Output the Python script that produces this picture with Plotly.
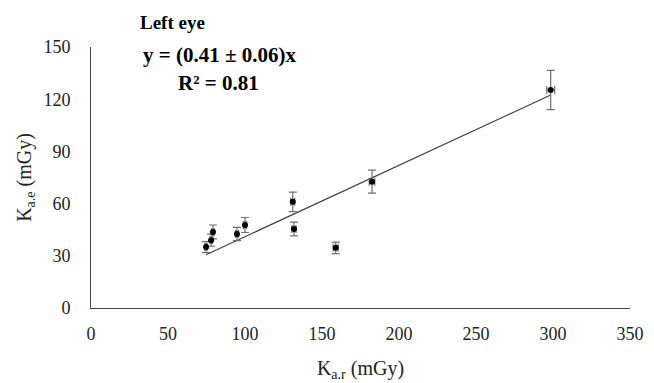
import plotly.graph_objects as go

# Data
k_ar = [74.7, 78.0, 79.2, 94.8, 100.0, 131.0, 131.8, 158.9, 182.5, 298.5]
k_ae = [35.0, 39.0, 43.7, 42.5, 47.7, 61.0, 45.4, 34.6, 72.6, 125.3]
k_ae_err = [3.2, 3.5, 4.0, 3.8, 4.3, 5.6, 4.0, 3.3, 6.6, 11.3]
k_ar_err = [0.8, 0.8, 0.8, 1.0, 1.0, 1.3, 1.3, 1.6, 1.8, 2.6]
slope = 0.41
x_ticks = [0, 50, 100, 150, 200, 250, 300, 350]
y_ticks = [0, 30, 60, 90, 120, 150]

FONT = "Liberation Serif, Times New Roman, serif"

fit_x = [min(k_ar), max(k_ar)]
fit_y = [slope * v for v in fit_x]

fig = go.Figure()
fig.add_trace(go.Scatter(
    x=fit_x, y=fit_y, mode="lines",
    line=dict(color="#404040", width=1.2), hoverinfo="skip", showlegend=False))
fig.add_trace(go.Scatter(
    x=k_ar, y=k_ae, mode="markers",
    marker=dict(color="black", size=6),
    error_y=dict(type="data", array=k_ae_err, color="#6e6e6e", thickness=1.2, width=4),
    error_x=dict(type="data", array=k_ar_err, color="#6e6e6e", thickness=1.2, width=4),
    showlegend=False))

# page body adds an 8px offset, so the figure is sized to 646x375
fig.update_layout(
    width=646, height=375,
    margin=dict(l=83, r=24, t=39, b=75),
    paper_bgcolor="white", plot_bgcolor="white",
    font=dict(family=FONT, size=18, color="#222"),
    xaxis=dict(range=[0, 350], tickvals=x_ticks, showgrid=False, zeroline=False,
               showline=True, linecolor="#444", linewidth=1, ticks="",
               ticklabelstandoff=9, automargin=False,
               title=dict(text="K<sub>a.r</sub> (mGy)", font=dict(size=20), standoff=18)),
    yaxis=dict(range=[0, 150], tickvals=y_ticks, showgrid=False, zeroline=False,
               showline=True, linecolor="#444", linewidth=1, ticks="",
               ticklabelstandoff=16, automargin=False,
               title=dict(text="K<sub>a.e</sub> (mGy)", font=dict(size=20), standoff=6)),
    annotations=[
        dict(text="<b>Left eye</b>", x=0.152, y=1.092, xref="paper", yref="paper",
             xanchor="center", yanchor="middle",
             showarrow=False, font=dict(size=19, family=FONT, color="black")),
        dict(text="<b>y = (0.41 ± 0.06)x</b>", x=0.239, y=0.969, xref="paper", yref="paper",
             xanchor="center", yanchor="middle",
             showarrow=False, font=dict(size=21, family=FONT, color="black")),
        dict(text="<b>R² = 0.81</b>", x=0.236, y=0.862, xref="paper", yref="paper",
             xanchor="center", yanchor="middle",
             showarrow=False, font=dict(size=21, family=FONT, color="black")),
    ],
)

fig.write_html("out.html")
